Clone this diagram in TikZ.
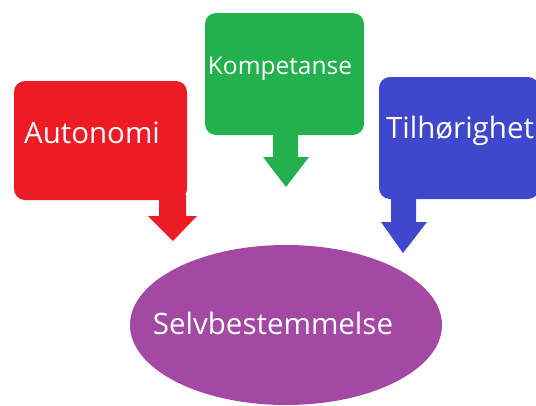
\documentclass[tikz,border=0pt]{standalone}
\usepackage{fontspec}
\setmainfont{Open Sans}
\usetikzlibrary{shapes.geometric}
\definecolor{cred}{HTML}{ED1C24}
\definecolor{cgreen}{HTML}{22B14C}
\definecolor{cblue}{HTML}{3F48CC}
\definecolor{cpurple}{HTML}{A349A4}
\begin{document}
\begin{tikzpicture}[x=1pt,y=-1pt,
  box/.style={rectangle,rounded corners=11pt,inner sep=0pt,draw=none},
  lbl/.style={text=white,inner sep=0pt,anchor=center},
  big/.style={font=\fontsize{29.5}{32}\selectfont},
  mid/.style={font=\fontsize{24.5}{27}\selectfont}]
\useasboundingbox (0,0) rectangle (536,405);
% boxes
\node[box,fill=cred,minimum width=173pt,minimum height=119pt] (red) at (100.5,140.5) {};
\node[box,fill=cgreen,minimum width=159pt,minimum height=122pt] (green) at (284.5,74) {};
\node[box,fill=cblue,minimum width=160pt,minimum height=122pt] (blue) at (459,138) {};
% arrows
\fill[cred] (159,195) -- (159,216) -- (148,216) -- (173,241) -- (197,216) -- (186,216) -- (186,195) -- cycle;
\fill[cgreen] (273,130) -- (273,157) -- (263,157) -- (286,187) -- (309,157) -- (298,157) -- (298,130) -- cycle;
\fill[cblue] (391,195) -- (391,222) -- (381,222) -- (403,253) -- (427,222) -- (416,222) -- (416,195) -- cycle;
% ellipse
\node[ellipse,fill=cpurple,minimum width=312pt,minimum height=160pt,inner sep=0pt] (self) at (286,325) {};
% labels
\node[lbl,big] (tA) at (92,133) {Autonomi};
\node[lbl,mid] (tK) at (280,69) {Kompetanse};
\node[lbl,big] (tT) at (460,131) {Tilhørighet};
\node[lbl,big] (tS) at (273,323) {Selvbestemmelse};
\end{tikzpicture}
\end{document}
